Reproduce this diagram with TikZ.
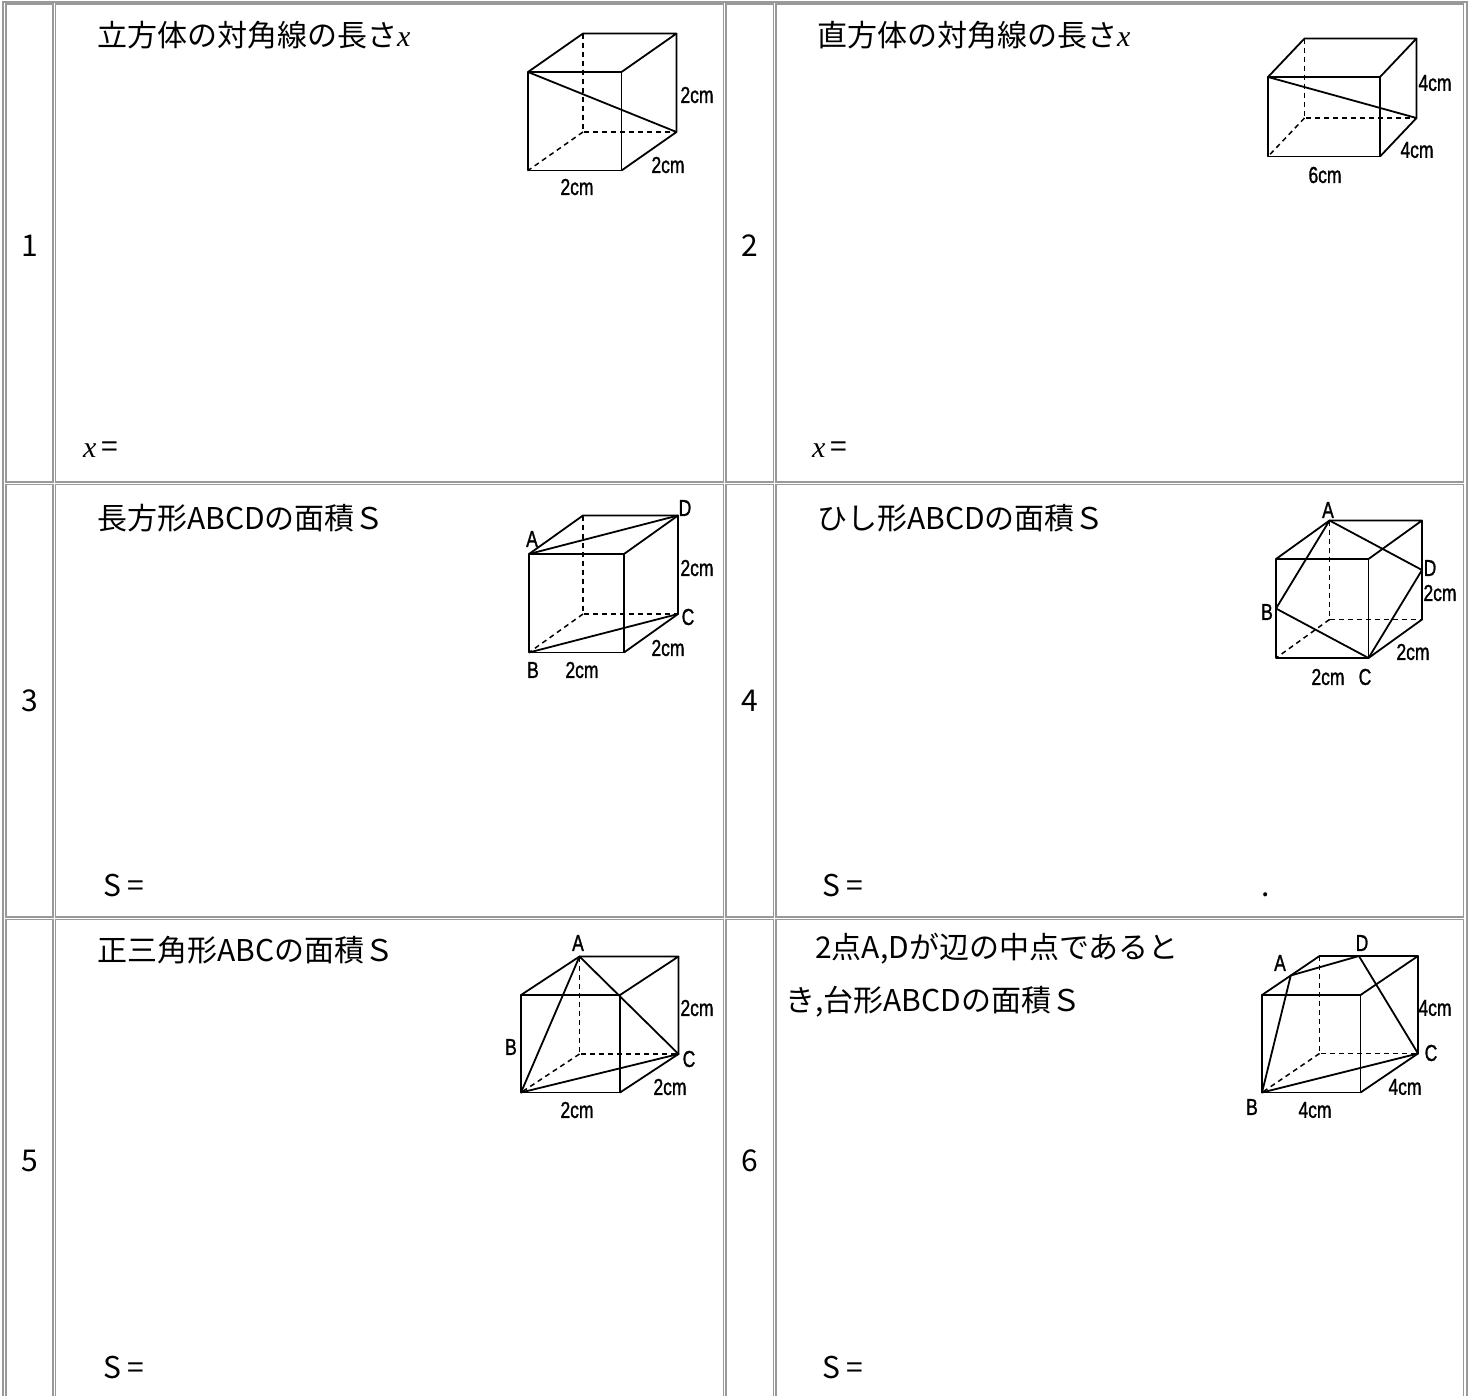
\documentclass[tikz,border=0pt]{standalone}
\usepackage{fontspec}
\setmainfont{Noto Sans CJK JP}
\newfontfamily\dimfont[FakeStretch=0.76,FakeBold=1.2]{Liberation Sans}
\newfontfamily\serifx{Liberation Serif}
\usetikzlibrary{calc}
\definecolor{tablegray}{HTML}{999999}

% cube frame: prefix, front top-left x, y, width, height, depth dx, dy
\newcommand{\cubeframe}[7]{%
	\coordinate (#1a) at (#2,#3);
	\coordinate (#1b) at (#2+#4,#3);
	\coordinate (#1c) at (#2+#4,#3+#5);
	\coordinate (#1d) at (#2,#3+#5);
	\coordinate (#1e) at (#2+#6,#3+#7);
	\coordinate (#1f) at (#2+#4+#6,#3+#7);
	\coordinate (#1g) at (#2+#4+#6,#3+#5+#7);
	\coordinate (#1h) at (#2+#6,#3+#5+#7);
	\draw[edge] (#1a) -- (#1b) -- (#1c) -- (#1d) -- cycle;
	\draw[edge] (#1a) -- (#1e) -- (#1f) -- (#1b);
	\draw[edge] (#1f) -- (#1g) -- (#1c);
	\draw[hidden] (#1e) -- (#1h) -- (#1g);
	\draw[hidden] (#1h) -- (#1d);
}

\begin{document}
\begin{tikzpicture}[x=1pt,y=-1pt,
		cell/.style={draw=tablegray,line width=1.1pt},
		frame/.style={draw=tablegray,line width=2pt},
		edge/.style={line width=1.8pt,line join=round},
		hidden/.style={line width=1.5pt,dash pattern=on 5pt off 4pt},
		dim/.style={font=\dimfont\fontsize{23}{23}\selectfont,inner sep=0pt},
		txt/.style={font=\fontsize{30}{53}\selectfont,inner sep=0pt,anchor=base west,align=left},
		num/.style={font=\fontsize{30}{30}\selectfont,inner sep=0pt,anchor=base}]
	\useasboundingbox (0,0) rectangle (1472,1395);
	\fill[white] (0,0) rectangle (1472,1395);

	% table
	\draw[frame] (2.5,1.5) rectangle (1467,1405);
	\draw[cell] (6,4) rectangle (53,482);
	\draw[cell] (55.5,4) rectangle (723.5,482);
	\draw[cell] (726,4) rectangle (773.5,482);
	\draw[cell] (776,4) rectangle (1463.5,482);
	\draw[cell] (6,484.5) rectangle (53,917);
	\draw[cell] (55.5,484.5) rectangle (723.5,917);
	\draw[cell] (726,484.5) rectangle (773.5,917);
	\draw[cell] (776,484.5) rectangle (1463.5,917);
	\draw[cell] (6,919.5) rectangle (53,1402);
	\draw[cell] (55.5,919.5) rectangle (723.5,1402);
	\draw[cell] (726,919.5) rectangle (773.5,1402);
	\draw[cell] (776,919.5) rectangle (1463.5,1402);

	\node[num] (n1) at (30,256) {1};
	\node[num] (n2) at (750,256) {2};
	\node[num] (n3) at (30,711) {3};
	\node[num] (n4) at (750,711) {4};
	\node[num] (n5) at (30,1171) {5};
	\node[num] (n6) at (750,1171) {6};

	\node[txt] (q1) at (97,46) {立方体の対角線の長さ{\serifx\itshape x}};
	\node[txt] (q2) at (817,46) {直方体の対角線の長さ{\serifx\itshape x}};
	\node[txt] (q3) at (97,529) {長方形ABCDの面積Ｓ};
	\node[txt] (q4) at (817,529) {ひし形ABCDの面積Ｓ};
	\node[txt] (q5) at (97,961) {正三角形ABCの面積Ｓ};
	\node[txt] (q6) at (785,1011) {　2点A,Dが辺の中点であると\\き,台形ABCDの面積Ｓ};

	\node[txt] (a1) at (83,457) {{\serifx\itshape x}\hspace{5pt}=};
	\node[txt] (a2) at (812,457) {{\serifx\itshape x}\hspace{5pt}=};
	\node[txt] (a3) at (103,896) {S =};
	\node[txt] (a4) at (822,896) {S =};
	\node[txt] (dot) at (1261,896) {.};
	\node[txt] (a5) at (103,1378) {S =};
	\node[txt] (a6) at (822,1378) {S =};

	% 1: cube
	\cubeframe{1}{528}{72}{93.5}{98.5}{55}{-38.5}
	\draw[edge] (1a) -- (1g);
	\node[dim] (l1a) at (697,95) {2cm};
	\node[dim] (l1b) at (668,165) {2cm};
	\node[dim] (l1c) at (577,187) {2cm};

	% 2: cuboid
	\cubeframe{2}{1268}{77}{112}{79.5}{36.5}{-38.5}
	\draw[edge] (2a) -- (2g);
	\node[dim] (l2a) at (1435,83) {4cm};
	\node[dim] (l2b) at (1417,150) {4cm};
	\node[dim] (l2c) at (1325,175) {6cm};

	% 3: rectangle ABCD
	\cubeframe{3}{529}{554}{95}{98.5}{54}{-38.5}
	\draw[edge] (3a) -- (3f);
	\draw[edge] (3d) -- (3g);
	\node[dim] (p3A) at (532,539) {A};
	\node[dim] (p3D) at (685,508) {D};
	\node[dim] (p3C) at (688,617) {C};
	\node[dim] (p3B) at (533,670) {B};
	\node[dim] (l3a) at (697,568) {2cm};
	\node[dim] (l3b) at (668,648) {2cm};
	\node[dim] (l3c) at (582,670) {2cm};

	% 4: rhombus ABCD
	\cubeframe{4}{1276}{559}{92.5}{99}{53.5}{-38.5}
	\coordinate (4B) at ($(4a)!0.5!(4d)$);
	\coordinate (4D) at ($(4f)!0.5!(4g)$);
	\draw[edge] (4e) -- (4B) -- (4c) -- (4D) -- cycle;
	\node[dim] (p4A) at (1328,510) {A};
	\node[dim] (p4D) at (1430,568) {D};
	\node[dim] (p4B) at (1267,612) {B};
	\node[dim] (p4C) at (1365,677) {C};
	\node[dim] (l4a) at (1440,593) {2cm};
	\node[dim] (l4b) at (1413,652) {2cm};
	\node[dim] (l4c) at (1328,677) {2cm};

	% 5: triangle ABC
	\cubeframe{5}{521}{995}{99}{97.5}{58.5}{-38.5}
	\draw[edge] (5e) -- (5d) -- (5g) -- cycle;
	\node[dim] (p5A) at (578,943) {A};
	\node[dim] (p5B) at (511,1047) {B};
	\node[dim] (p5C) at (689,1059) {C};
	\node[dim] (l5a) at (697,1008) {2cm};
	\node[dim] (l5b) at (670,1087) {2cm};
	\node[dim] (l5c) at (577,1110) {2cm};

	% 6: trapezoid ABCD
	\cubeframe{6}{1262}{995}{98.5}{97.5}{57.5}{-39}
	\coordinate (6A) at ($(6a)!0.5!(6e)$);
	\coordinate (6D) at ($(6e)!0.4!(6f)$);
	\draw[edge] (6A) -- (6d) -- (6g) -- (6D) -- cycle;
	\node[dim] (p6A) at (1280,963) {A};
	\node[dim] (p6D) at (1362,943) {D};
	\node[dim] (p6C) at (1431,1053) {C};
	\node[dim] (p6B) at (1252,1107) {B};
	\node[dim] (l6a) at (1435,1008) {4cm};
	\node[dim] (l6b) at (1405,1087) {4cm};
	\node[dim] (l6c) at (1315,1110) {4cm};
\end{tikzpicture}
\end{document}
